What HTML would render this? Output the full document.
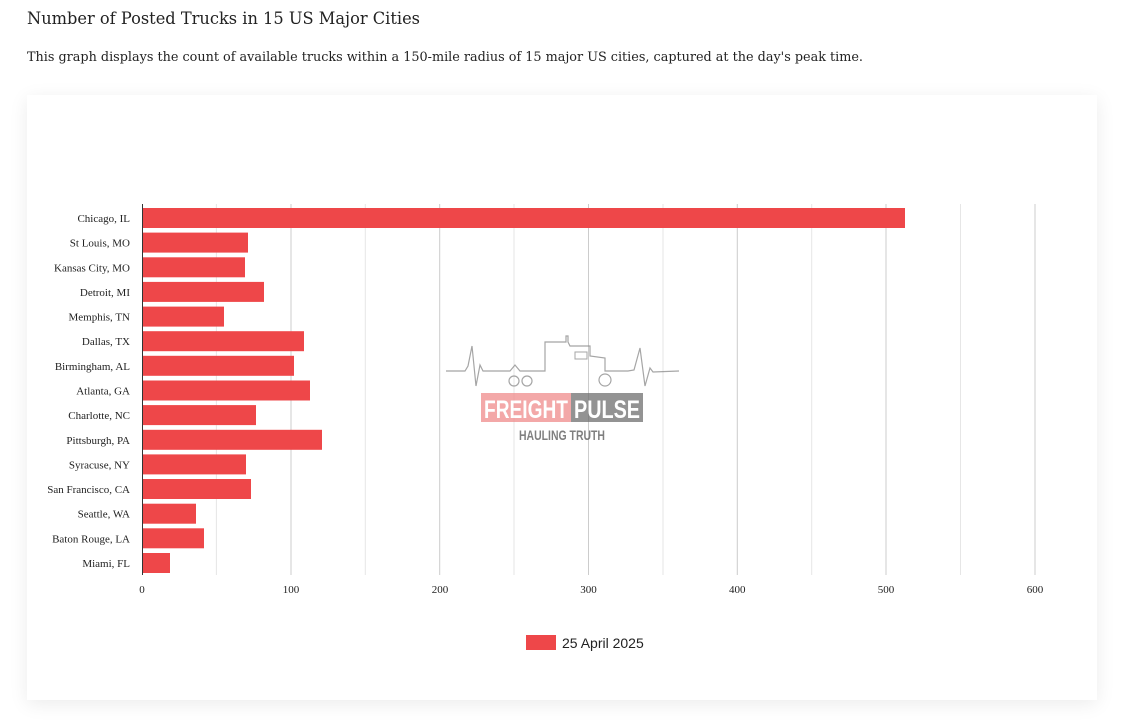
<!DOCTYPE html>
<html><head><meta charset="utf-8"><style>
html,body{margin:0;padding:0;background:#fff;width:1126px;height:726px;overflow:hidden}
.card{position:absolute;left:27px;top:95px;width:1070px;height:605px;background:#fff;box-shadow:0 4px 18px rgba(0,0,0,0.08)}
svg{position:absolute;left:0;top:0}
</style></head><body>
<div class="card"></div>
<svg width="1126" height="726" xmlns="http://www.w3.org/2000/svg">
<text x="27" y="24" font-family="DejaVu Serif, Liberation Serif, serif" font-size="17" fill="#222" textLength="393" lengthAdjust="spacingAndGlyphs">Number of Posted Trucks in 15 US Major Cities</text>
<text x="27" y="61" font-family="DejaVu Serif, Liberation Serif, serif" font-size="13" fill="#222" textLength="836" lengthAdjust="spacingAndGlyphs">This graph displays the count of available trucks within a 150-mile radius of 15 major US cities, captured at the day's peak time.</text>
<g stroke-width="1">
<line x1="216.4" y1="204" x2="216.4" y2="575" stroke="#e6e6e6"/>
<line x1="291" y1="204" x2="291" y2="575" stroke="#ccc"/>
<line x1="365.3" y1="204" x2="365.3" y2="575" stroke="#e6e6e6"/>
<line x1="439.7" y1="204" x2="439.7" y2="575" stroke="#ccc"/>
<line x1="514" y1="204" x2="514" y2="575" stroke="#e6e6e6"/>
<line x1="588.5" y1="204" x2="588.5" y2="575" stroke="#ccc"/>
<line x1="663" y1="204" x2="663" y2="575" stroke="#e6e6e6"/>
<line x1="737.3" y1="204" x2="737.3" y2="575" stroke="#ccc"/>
<line x1="811.7" y1="204" x2="811.7" y2="575" stroke="#e6e6e6"/>
<line x1="886" y1="204" x2="886" y2="575" stroke="#ccc"/>
<line x1="960.5" y1="204" x2="960.5" y2="575" stroke="#e6e6e6"/>
<line x1="1035" y1="204" x2="1035" y2="575" stroke="#ccc"/>
</g>
<g opacity="0.75">
<polyline fill="none" stroke="#888" stroke-width="1.2" points="446,371 465,371 468,366 472,346 476,386 480,365 483,371 510,371 515,365 520,371 545,371 545,342 566,342 566,336 568,336 568,342 570,346 590,346 590,356 605,358 605,371 620,371 628,371 634,370 640,348 645,386 650,368 653,372 679,371"/>
<circle cx="514" cy="381" r="5" fill="none" stroke="#888" stroke-width="1.2"/>
<circle cx="527" cy="381" r="5" fill="none" stroke="#888" stroke-width="1.2"/>
<circle cx="605" cy="380" r="6" fill="none" stroke="#888" stroke-width="1.2"/>
<rect x="575" y="352" width="12" height="7" fill="none" stroke="#888" stroke-width="1"/>
<rect x="481" y="393" width="90" height="29" fill="#ef8c8c"/>
<rect x="571" y="393" width="72" height="29" fill="#6f6f6f"/>
<text x="526" y="418" text-anchor="middle" font-family="Liberation Sans Narrow, Liberation Sans, sans-serif" font-weight="bold" font-size="25" fill="#fff" textLength="84" lengthAdjust="spacingAndGlyphs">FREIGHT</text>
<text x="607" y="418" text-anchor="middle" font-family="Liberation Sans Narrow, Liberation Sans, sans-serif" font-weight="bold" font-size="25" fill="#fff" textLength="66" lengthAdjust="spacingAndGlyphs">PULSE</text>
<text x="562" y="440" text-anchor="middle" font-family="Liberation Sans Narrow, Liberation Sans, sans-serif" font-weight="bold" font-size="14" fill="#555" textLength="86" lengthAdjust="spacingAndGlyphs">HAULING TRUTH</text>
</g>
<g fill="#ee4749">
<rect x="142" y="208" width="763" height="20"/>
<rect x="142" y="232.6" width="106" height="20"/>
<rect x="142" y="257.3" width="103" height="20"/>
<rect x="142" y="281.9" width="122" height="20"/>
<rect x="142" y="306.6" width="82" height="20"/>
<rect x="142" y="331.2" width="162" height="20"/>
<rect x="142" y="355.8" width="152" height="20"/>
<rect x="142" y="380.5" width="168" height="20"/>
<rect x="142" y="405.1" width="114" height="20"/>
<rect x="142" y="429.8" width="180" height="20"/>
<rect x="142" y="454.4" width="104" height="20"/>
<rect x="142" y="479" width="109" height="20"/>
<rect x="142" y="503.7" width="54" height="20"/>
<rect x="142" y="528.3" width="62" height="20"/>
<rect x="142" y="553" width="28" height="20"/>
</g>
<line x1="142.5" y1="204" x2="142.5" y2="575" stroke="#333" stroke-width="1"/>
<g font-family="Liberation Serif, serif" font-size="11" fill="#222" text-anchor="end">
<text x="130" y="222">Chicago, IL</text>
<text x="130" y="246.6">St Louis, MO</text>
<text x="130" y="271.3">Kansas City, MO</text>
<text x="130" y="295.9">Detroit, MI</text>
<text x="130" y="320.6">Memphis, TN</text>
<text x="130" y="345.2">Dallas, TX</text>
<text x="130" y="369.8">Birmingham, AL</text>
<text x="130" y="394.5">Atlanta, GA</text>
<text x="130" y="419.1">Charlotte, NC</text>
<text x="130" y="443.8">Pittsburgh, PA</text>
<text x="130" y="468.4">Syracuse, NY</text>
<text x="130" y="493">San Francisco, CA</text>
<text x="130" y="517.7">Seattle, WA</text>
<text x="130" y="542.3">Baton Rouge, LA</text>
<text x="130" y="567">Miami, FL</text>
</g>
<g font-family="Liberation Serif, serif" font-size="11" fill="#222" text-anchor="middle">
<text x="142" y="593">0</text>
<text x="291" y="593">100</text>
<text x="440" y="593">200</text>
<text x="588.5" y="593">300</text>
<text x="737.3" y="593">400</text>
<text x="886" y="593">500</text>
<text x="1035" y="593">600</text>
</g>
<rect x="526" y="635" width="30" height="15" fill="#ee4749"/>
<text x="562" y="648" font-family="Liberation Sans, sans-serif" font-size="14" fill="#222">25 April 2025</text>
</svg>
</body></html>
